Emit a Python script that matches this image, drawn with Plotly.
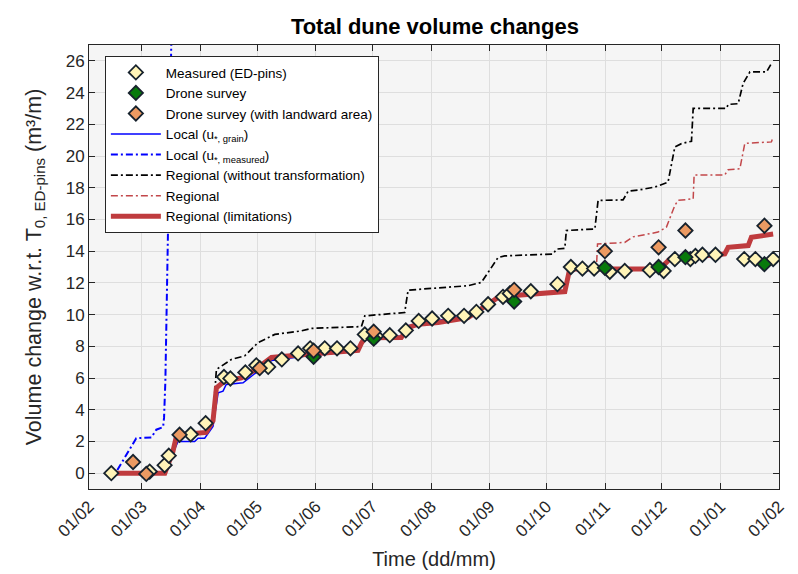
import pandas as pd
import plotly.graph_objects as go

t0 = pd.Timestamp("2021-02-01")   # all times below are days since 01/02

# measured (ED-pins)
meas_day = [11.8, 32.1, 40.0, 42.2, 53.8, 61.7, 71.4, 74.8, 82.7, 88.5,
             94.8, 102.0, 110.6, 117.0, 124.7, 131.2, 138.3, 145.9, 151.9, 159.1,
             167.6, 174.4, 181.5, 190.0, 198.4, 204.9, 211.1, 219.0, 222.6, 233.7,
             247.8, 254.9, 261.0, 267.2, 275.5, 283.4, 296.7, 304.0, 309.9, 318.1,
             320.8, 324.5, 331.4, 346.6, 352.5, 361.9]
meas_vol = [0.0, 0.1, 0.5, 1.1, 2.45, 3.15, 6.07, 5.97, 6.35, 6.8,
            6.7, 7.17, 7.55, 7.87, 7.87, 7.87, 7.87, 8.75, 8.65, 8.7,
            9.0, 9.6, 9.75, 9.92, 9.92, 10.17, 10.65, 11.12, 11.33, 11.47,
            11.92, 13.0, 12.9, 12.9, 12.7, 12.75, 12.8, 12.75, 13.5, 13.5,
            13.7, 13.77, 13.77, 13.5, 13.5, 13.5]

# drone surveys
drone_day = [118.8, 150.6, 224.9, 272.9, 301.3, 315.5, 357.3]
drone_vol = [7.34, 8.48, 10.82, 12.95, 13.0, 13.62, 13.18]
land_day = [23.3, 30.3, 47.9, 90.3, 118.8, 150.6, 224.9, 272.9, 301.3, 315.5, 357.3]
land_vol = [0.7, -0.05, 2.42, 6.62, 7.72, 8.92, 11.56, 14.0, 14.24, 15.3, 15.6]

# model runs
grain_day = [11.6, 40.0, 47.1, 55.9, 57.7, 61.2, 65.6, 68.3, 70.9, 72.6, 81.5, 85.9,
             96.5, 115.9, 142.3, 145.9, 165.2, 168.8, 184.7, 200.5, 207.6, 216.4,
             223.4, 245.5]
grain_vol = [0.0, 0.05, 2.0, 2.0, 2.2, 2.2, 2.95, 5.06, 5.17, 5.59, 5.7, 6.1,
             7.1, 7.4, 7.7, 8.6, 8.65, 9.3, 9.65, 9.96, 10.45, 11.15,
             11.3, 11.4]

umeas_day = [15.0, 20.6, 25.0, 33.0, 35.6, 39.2, 39.7, 40.4, 41.4, 41.8, 43.5, 44.5]
umeas_vol = [0.2, 1.27, 2.2, 2.25, 2.74, 2.9, 3.5, 5.8, 12.1, 15.5, 26.9, 30.0]

notr_day = [66.5, 67.4, 75.3, 82.4, 89.4, 98.3, 112.3, 117.6, 144.1, 145.9, 167.0,
            168.8, 200.5, 207.6, 216.4, 219.9, 245.5, 247.3, 251.7, 252.5, 267.6,
            269.3, 282.5, 285.2, 291.4, 299.3, 306.3, 309.9, 313.4, 318.7, 319.6,
            337.2, 338.1, 343.4, 346.0, 349.6, 358.4, 361.0]
notr_vol = [5.06, 6.54, 7.17, 7.4, 8.23, 8.75, 8.97, 9.13, 9.24, 9.92, 10.13,
            11.54, 11.82, 12.03, 13.6, 13.7, 13.82, 14.13, 14.18, 15.3, 15.4,
            17.2, 17.23, 17.78, 17.87, 18.04, 18.35, 20.57, 20.78, 20.93, 23.0,
            23.0, 23.25, 23.3, 24.57, 25.3, 25.3, 25.84]

reg_day = [264.0, 268.4, 269.0, 274.6, 283.4, 287.8, 301.0, 305.4, 309.9, 311.6,
           319.6, 320.1, 336.3, 338.1, 344.3, 346.9, 349.6, 361.0, 361.9]
reg_vol = [12.87, 12.9, 14.45, 14.5, 14.55, 14.9, 15.2, 15.5, 16.88, 17.2,
           17.3, 18.8, 18.8, 19.13, 19.2, 20.78, 20.82, 20.89, 21.2]

lim_day = [11.6, 40.1, 44.4, 46.0, 48.0, 62.0, 65.6, 67.4, 71.8, 80.6, 87.7, 96.5,
           115.9, 142.3, 144.1, 145.9, 165.2, 168.8, 174.1, 184.7, 200.5, 207.6,
           216.4, 223.4, 244.6, 251.7, 254.3, 302.0, 307.2, 336.3, 338.1, 348.7,
           350.4, 361.9]
lim_vol = [0.0, 0.0, 1.37, 2.2, 2.42, 2.57, 3.3, 5.38, 5.8, 6.0, 6.5, 7.3,
           7.5, 7.75, 8.2, 8.54, 8.55, 9.18, 9.39, 9.5, 9.8, 10.34,
           11.08, 11.18, 11.33, 11.45, 12.87, 12.87, 13.5, 13.82, 14.24, 14.35,
           14.87, 15.08]


def to_date(days):
    return t0 + pd.to_timedelta(days, unit="D")


DASHDOT = "7px,3px,2px,3px"
EDGE = "#17222d"
FONT = "Liberation Sans, Arial, sans-serif"

fig = go.Figure()

fig.add_trace(go.Scatter(x=to_date(grain_day), y=grain_vol, mode="lines",
                         name="Local (u<sub>*, grain</sub>)", legendrank=4,
                         line=dict(color="#0000ff", width=1.5)))
fig.add_trace(go.Scatter(x=to_date(umeas_day), y=umeas_vol, mode="lines",
                         name="Local (u<sub>*, measured</sub>)", legendrank=5,
                         line=dict(color="#0000ff", width=2, dash=DASHDOT)))
fig.add_trace(go.Scatter(x=to_date(notr_day), y=notr_vol, mode="lines",
                         name="Regional (without transformation)", legendrank=6,
                         line=dict(color="#000000", width=1.7, dash=DASHDOT)))
fig.add_trace(go.Scatter(x=to_date(reg_day), y=reg_vol, mode="lines",
                         name="Regional", legendrank=7,
                         line=dict(color="#c2474a", width=1.5, dash=DASHDOT)))
fig.add_trace(go.Scatter(x=to_date(lim_day), y=lim_vol, mode="lines",
                         name="Regional (limitations)", legendrank=8,
                         line=dict(color="#bf3b3e", width=5)))

marker_style = dict(symbol="diamond", size=11, line=dict(color=EDGE, width=1.8))
fig.add_trace(go.Scatter(x=to_date(meas_day), y=meas_vol, mode="markers",
                         name="Measured (ED-pins)", legendrank=1,
                         marker=dict(color="#fff4b8", **marker_style)))
fig.add_trace(go.Scatter(x=to_date(drone_day), y=drone_vol, mode="markers",
                         name="Drone survey", legendrank=2,
                         marker=dict(color="#087a0c", **marker_style)))
fig.add_trace(go.Scatter(x=to_date(land_day), y=land_vol, mode="markers",
                         name="Drone survey (with landward area)", legendrank=3,
                         marker=dict(color="#ec9a62", **marker_style)))

axis_common = dict(showline=True, linecolor="#262626", linewidth=1, mirror="ticks",
                   ticks="inside", ticklen=6, tickcolor="#262626", automargin=False,
                   showgrid=True, gridcolor="#dedede", gridwidth=1, zeroline=False,
                   tickfont=dict(family=FONT, size=17, color="#262626"))

fig.update_xaxes(range=[t0, to_date(365)], dtick="M1", tick0=t0, tickformat="%d/%m",
                 tickangle=-45,
                 title=dict(text="Time (dd/mm)", font=dict(family=FONT, size=20, color="#262626"),
                            standoff=12),
                 **axis_common)
fig.update_yaxes(range=[-1, 27], dtick=2,
                 title=dict(text="Volume change w.r.t. T<sub>0, ED-pins</sub> (m³/m)",
                            font=dict(family=FONT, size=21.5, color="#262626"), standoff=18),
                 **axis_common)

fig.update_layout(
    width=798, height=574,
    margin=dict(l=81, r=27, t=37, b=93),
    paper_bgcolor="white", plot_bgcolor="#f5f5f5",
    font=dict(family=FONT, color="#262626"),
    title=dict(text="<b>Total dune volume changes</b>", x=0.535, xanchor="center",
               y=0.968, yanchor="middle", font=dict(family=FONT, size=22, color="#000000")),
    legend=dict(x=0.023, y=0.975, xanchor="left", yanchor="top",
                bgcolor="white", bordercolor="#262626", borderwidth=1,
                font=dict(family=FONT, size=13.5, color="#000000"),
                itemwidth=50, tracegroupgap=0),
    showlegend=True,
)

fig.write_html("out.html")
